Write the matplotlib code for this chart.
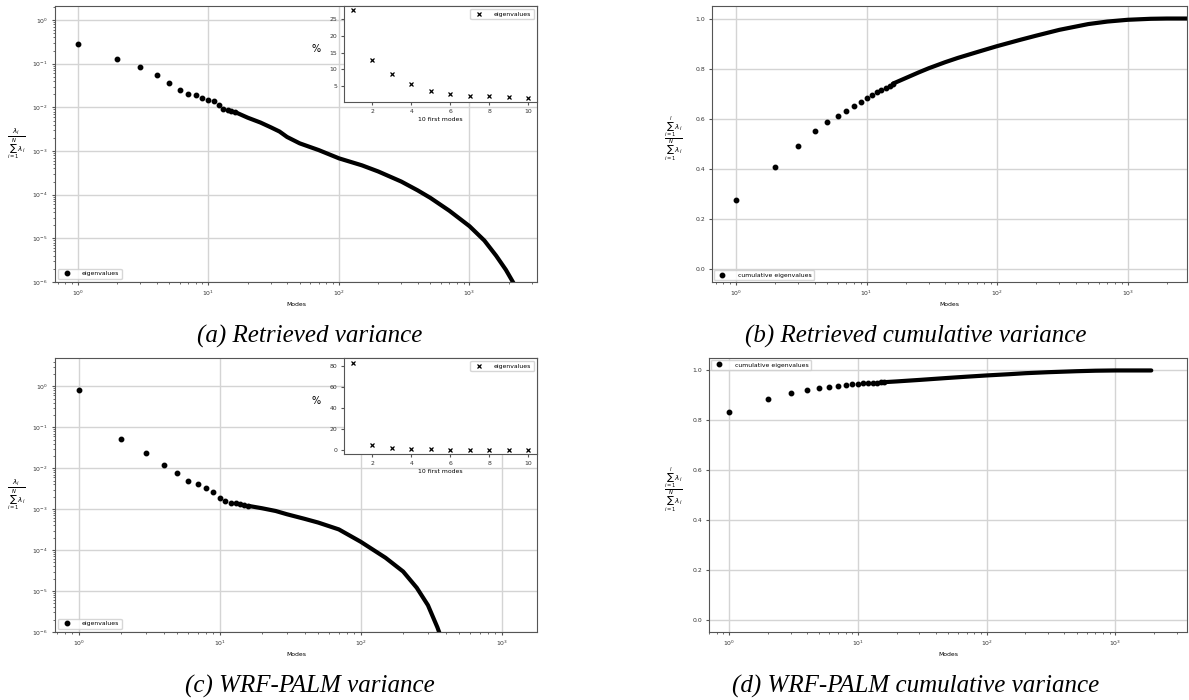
import numpy as np
import matplotlib
matplotlib.use("Agg")
import matplotlib.pyplot as plt

# ---- data ----
# (a) retrieved: normalised eigenvalues, first modes shown as single dots
ret_modes = np.arange(1, 17)
ret_eig = [0.277, 0.128, 0.085, 0.056, 0.036, 0.025, 0.020, 0.019, 0.016, 0.015,
           0.0137, 0.0113, 0.0093, 0.0087, 0.0082, 0.0078]
# dense tail (thousands of modes merge into a thick band)
ret_tail_modes = [16, 20, 25, 30, 35, 40, 50, 70, 100, 150, 200, 300, 400, 500,
                  700, 1000, 1300, 1600, 1900, 2200]
ret_tail_eig = [0.0078, 0.0058, 0.0045, 0.0035, 0.0028, 0.0021, 0.0015, 0.00105,
                0.00068, 0.00047, 0.00034, 0.0002, 0.000126, 8.5e-5, 4.3e-5, 1.9e-5,
                8.9e-6, 4e-6, 1.9e-6, 8.9e-7]
# (b) retrieved cumulative
ret_cum = [0.278, 0.408, 0.493, 0.550, 0.587, 0.612, 0.632, 0.652, 0.668, 0.682,
           0.696, 0.706, 0.716, 0.724, 0.733, 0.741]
ret_cum_tail_modes = [16, 20, 25, 30, 40, 50, 70, 100, 150, 200, 300, 500, 700,
                      1000, 1500, 2000, 3300]
ret_cum_tail = [0.741, 0.763, 0.785, 0.802, 0.826, 0.843, 0.866, 0.890, 0.915,
                0.932, 0.955, 0.978, 0.988, 0.995, 0.999, 1.0, 1.0]

# (c) WRF-PALM normalised eigenvalues
wrf_modes = np.arange(1, 17)
wrf_eig = [0.833, 0.052, 0.024, 0.0118, 0.0078, 0.0049, 0.0042, 0.0033, 0.0026,
           0.0019, 0.0016, 0.00145, 0.0014, 0.0013, 0.00125, 0.0012]
wrf_tail_modes = [16, 20, 25, 30, 40, 50, 70, 100, 150, 200, 250, 300, 350, 380]
wrf_tail_eig = [0.0012, 0.00105, 0.0009, 0.00075, 0.00058, 0.00047, 0.00032, 0.00016,
                6.5e-5, 3e-5, 1.2e-5, 4.5e-6, 1.3e-6, 6e-7]
# (d) WRF-PALM cumulative
wrf_cum = [0.833, 0.885, 0.909, 0.921, 0.929, 0.934, 0.938, 0.941, 0.944, 0.946,
           0.948, 0.949, 0.950, 0.951, 0.952, 0.953]
wrf_cum_tail_modes = [16, 20, 30, 50, 70, 100, 150, 200, 300, 500, 700, 1000, 1900]
wrf_cum_tail = [0.953, 0.956, 0.962, 0.970, 0.975, 0.980, 0.985, 0.989, 0.993,
                0.997, 0.999, 1.0, 1.0]

first10 = np.arange(1, 11)
ret_pct = [27.7, 12.8, 8.5, 5.6, 3.6, 2.5, 2.0, 1.9, 1.6, 1.5]
wrf_pct = [83.3, 5.2, 2.4, 1.2, 0.8, 0.5, 0.4, 0.3, 0.3, 0.2]

captions = ["(a) Retrieved variance", "(b) Retrieved cumulative variance",
            "(c) WRF-PALM variance", "(d) WRF-PALM cumulative variance"]

W, H = 1189, 700
plt.rcParams["font.size"] = 4.4
plt.rcParams["axes.edgecolor"] = "#555555"
plt.rcParams["xtick.color"] = "#555555"
plt.rcParams["ytick.color"] = "#555555"
plt.rcParams["xtick.labelcolor"] = "#333333"
plt.rcParams["ytick.labelcolor"] = "#333333"
plt.rcParams["xtick.major.size"] = 2.5
plt.rcParams["ytick.major.size"] = 2.5
plt.rcParams["xtick.minor.size"] = 1.5
plt.rcParams["ytick.minor.size"] = 1.5
plt.rcParams["xtick.major.pad"] = 2.5
plt.rcParams["ytick.major.pad"] = 2.5

fig = plt.figure(figsize=(W / 100, H / 100), dpi=100)


def px_axes(l, t, r, b):
    return fig.add_axes([l / W, 1 - b / H, (r - l) / W, (b - t) / H])


grid_kw = dict(color="#d4d4d4", linewidth=1.0)
frac_var = r"$\frac{\lambda_i}{\sum_{i=1}^{N}\lambda_i}$"
frac_cum = r"$\frac{\sum_{i=1}^{l}\lambda_i}{\sum_{i=1}^{N}\lambda_i}$"


def variance_panel(box, modes, eig, tail_m, tail_v, xlim, ylim, inset_box, pct, pct_ylim, pct_ticks):
    ax = px_axes(*box)
    ax.plot(tail_m, tail_v, color="black", linewidth=3.0, solid_capstyle="round")
    ax.plot(modes, eig, "o", color="black", markersize=3.2, label="eigenvalues")
    ax.set_xscale("log")
    ax.set_yscale("log")
    ax.set_xlim(*xlim)
    ax.set_ylim(*ylim)
    ax.grid(True, which="major", **grid_kw)
    ax.set_axisbelow(True)
    ax.set_xlabel("Modes", labelpad=3)
    ax.set_ylabel(frac_var, rotation=0, fontsize=7.5, va="center", ha="center")
    ax.yaxis.set_label_coords((16 - box[0]) / (box[2] - box[0]), 0.5)
    ax.legend(loc="lower left", handletextpad=1.5)
    ins = px_axes(*inset_box)
    ins.plot(first10, pct, "x", color="black", markersize=3, markeredgewidth=0.9,
             label="eigenvalues")
    ins.set_xlim(0.55, 10.45)
    ins.set_ylim(*pct_ylim)
    ins.set_yticks(pct_ticks)
    ins.set_xticks([2, 4, 6, 8, 10])
    ins.set_xlabel("10 first modes", labelpad=2)
    ins.set_ylabel("%", rotation=0, fontsize=7, va="center", ha="center")
    ins.yaxis.set_label_coords((316 - inset_box[0]) / (inset_box[2] - inset_box[0]), 0.55)
    ins.legend(loc="upper right", handletextpad=1.5)
    return ax


def cumulative_panel(box, modes, cum, tail_m, tail_v, xlim, legend_loc):
    ax = px_axes(*box)
    ax.plot(tail_m, tail_v, color="black", linewidth=3.0, solid_capstyle="round")
    ax.plot(modes, cum, "o", color="black", markersize=3.2, label="cumulative eigenvalues")
    ax.set_xscale("log")
    ax.set_xlim(*xlim)
    ax.set_ylim(-0.05, 1.05)
    ax.set_yticks([0.0, 0.2, 0.4, 0.6, 0.8, 1.0])
    ax.grid(True, which="major", **grid_kw)
    ax.set_axisbelow(True)
    ax.set_xlabel("Modes", labelpad=3)
    ax.set_ylabel(frac_cum, rotation=0, fontsize=7.5, va="center", ha="center")
    ax.yaxis.set_label_coords((673 - box[0]) / (box[2] - box[0]), 0.52)
    ax.legend(loc=legend_loc, handletextpad=1.5, borderaxespad=0.3)
    return ax


variance_panel((55, 6, 537, 282), ret_modes, ret_eig, ret_tail_modes, ret_tail_eig,
               (0.667, 3290), (1e-6, 2.1), (344, 6, 537, 102), ret_pct, (0.2, 29),
               [5, 10, 15, 20, 25])
cumulative_panel((712, 6, 1187, 282), ret_modes, ret_cum, ret_cum_tail_modes, ret_cum_tail,
                 (0.655, 2850), "lower left")
variance_panel((55, 358, 537, 632), wrf_modes, wrf_eig, wrf_tail_modes, wrf_tail_eig,
               (0.68, 1780), (1e-6, 4.9), (344, 358, 537, 454), wrf_pct, (-3.5, 88),
               [0, 20, 40, 60, 80])
cumulative_panel((709, 358, 1187, 632), wrf_modes, wrf_cum, wrf_cum_tail_modes, wrf_cum_tail,
                 (0.695, 3600), "upper left")

cap_kw = dict(family="Liberation Serif", style="italic", fontsize=18, ha="center", va="center")
fig.text(310 / W, 1 - 336 / H, captions[0], **cap_kw)
fig.text(916 / W, 1 - 336 / H, captions[1], **cap_kw)
fig.text(310 / W, 1 - 686 / H, captions[2], **cap_kw)
fig.text(916 / W, 1 - 686 / H, captions[3], **cap_kw)

fig.savefig("out.png", dpi=100)
